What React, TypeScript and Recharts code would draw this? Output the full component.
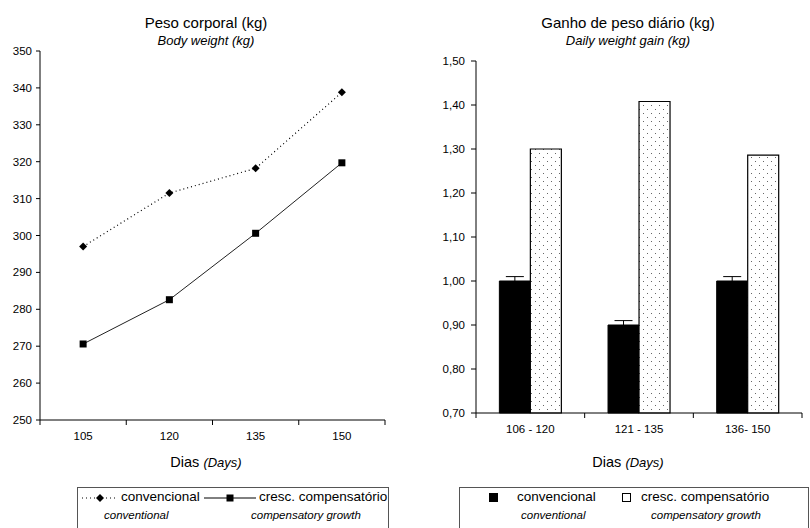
import React from 'react';
import { LineChart, Line, XAxis, YAxis, BarChart, Bar, ErrorBar } from 'recharts';

// ---- Data ----
const days = [105, 120, 135, 150];
const conventionalWeight = [297, 311.5, 318.2, 338.8];
const compensatoryWeight = [270.6, 282.6, 300.6, 319.7];
const weightTicks = [250, 260, 270, 280, 290, 300, 310, 320, 330, 340, 350];
const dayBoundaries = [97.5, 112.5, 127.5, 142.5, 157.5];

const periods = ['106 - 120', '121 - 135', '136- 150'];
const conventionalGain = [1.0, 0.9, 1.0];
const conventionalGainErr = [0.01, 0.01, 0.01];
const compensatoryGain = [1.3, 1.408, 1.286];
const gainTicks = [0.7, 0.8, 0.9, 1.0, 1.1, 1.2, 1.3, 1.4, 1.5];

const lineData = days.map((d, i) => ({
  day: d,
  conv: conventionalWeight[i],
  comp: compensatoryWeight[i],
}));

const barData = periods.map((p, i) => ({
  period: p,
  conv: conventionalGain[i],
  convErr: conventionalGainErr[i],
  comp: compensatoryGain[i],
}));

const FONT = '"Liberation Sans", Arial, Helvetica, sans-serif';
const TICK_SIZE = 5;
const TICK_MARGIN = 7;
const TICK_FONT = 11.5;

const Diamond = (props: any) => {
  const { cx, cy, index } = props;
  if (cx == null || cy == null) return <g key={`d${index}`} />;
  return (
    <path
      key={`d${index}`}
      d={`M${cx},${cy - 4}L${cx + 4},${cy}L${cx},${cy + 4}L${cx - 4},${cy}Z`}
      fill="#000"
    />
  );
};

const Square = (props: any) => {
  const { cx, cy, index } = props;
  if (cx == null || cy == null) return <g key={`s${index}`} />;
  return <rect key={`s${index}`} x={cx - 3.5} y={cy - 3.5} width={7} height={7} fill="#000" />;
};

const DayTick = (props: any) => {
  const { x, y, payload } = props;
  const v = payload.value;
  const axisY = y - TICK_SIZE - TICK_MARGIN;
  if (dayBoundaries.includes(v)) {
    return <line x1={x} x2={x} y1={axisY} y2={axisY + TICK_SIZE} stroke="#000" />;
  }
  return (
    <text x={x} y={y} dy="0.71em" textAnchor="middle" fontSize={TICK_FONT} fill="#000" fontFamily={FONT}>
      {v}
    </text>
  );
};

const PeriodTick = (props: any) => {
  const { x, y, payload, index } = props;
  const half = payload && payload.offset ? payload.offset : 54.3;
  const axisY = y - TICK_SIZE - TICK_MARGIN;
  return (
    <g>
      <line x1={x - half} x2={x - half} y1={axisY} y2={axisY + TICK_SIZE} stroke="#000" />
      {index === periods.length - 1 && (
        <line x1={x + half} x2={x + half} y1={axisY} y2={axisY + TICK_SIZE} stroke="#000" />
      )}
      <text x={x} y={y} dy="0.71em" textAnchor="middle" fontSize={TICK_FONT} fill="#000" fontFamily={FONT}>
        {payload.value}
      </text>
    </g>
  );
};

const abs = (left: number, top: number, extra: any = {}) => ({
  position: 'absolute' as const,
  left,
  top,
  whiteSpace: 'nowrap' as const,
  ...extra,
});

const centered = (cx: number, top: number, size: number, italic = false) => (
  abs(cx - 200, top, {
    width: 400,
    textAlign: 'center',
    fontSize: size,
    fontStyle: italic ? 'italic' : 'normal',
    lineHeight: 1,
  })
);

export default function App() {
  return (
    <div
      style={{
        position: 'absolute',
        left: 0,
        top: 0,
        width: 810,
        height: 528,
        overflow: 'hidden',
        background: '#fff',
        fontFamily: FONT,
        color: '#000',
      }}
    >
      {/* Left chart */}
      <div style={abs(0, 0)}>
        <LineChart width={400} height={450} data={lineData} margin={{ top: 51, right: 15, bottom: 0, left: 0 }}>
          <XAxis
            dataKey="day"
            type="number"
            domain={[97.5, 157.5]}
            ticks={[97.5, 105, 112.5, 120, 127.5, 135, 142.5, 150, 157.5]}
            interval={0}
            height={30}
            tickSize={TICK_SIZE}
            tickMargin={TICK_MARGIN}
            tickLine={{ stroke: 'none' }}
            axisLine={{ stroke: '#000' }}
            tick={<DayTick />}
          />
          <YAxis
            type="number"
            domain={[250, 350]}
            ticks={weightTicks}
            interval={0}
            width={40}
            tickSize={4}
            tickMargin={4}
            axisLine={{ stroke: '#000' }}
            tickLine={{ stroke: '#000' }}
            tick={{ fontSize: TICK_FONT, fill: '#000', fontFamily: FONT }}
          />
          <Line
            dataKey="conv"
            stroke="#000"
            strokeWidth={1.2}
            strokeDasharray="1 3"
            dot={Diamond}
            isAnimationActive={false}
          />
          <Line
            dataKey="comp"
            stroke="#222"
            strokeWidth={1}
            dot={Square}
            isAnimationActive={false}
          />
        </LineChart>
      </div>

      {/* Right chart */}
      <div style={abs(410, 0)}>
        <BarChart
          width={400}
          height={443}
          data={barData}
          margin={{ top: 61, right: 8, bottom: 0, left: 0 }}
          barCategoryGap="21.5%"
          barGap={0}
        >
          <defs>
            <pattern id="dots" width="8" height="8" patternUnits="userSpaceOnUse">
              <rect width="8" height="8" fill="#fff" />
              <rect x="1" y="1" width="1" height="1" fill="#666" />
              <rect x="5" y="5" width="1" height="1" fill="#666" />
            </pattern>
          </defs>
          <XAxis
            dataKey="period"
            height={30}
            interval={0}
            tickSize={TICK_SIZE}
            tickMargin={TICK_MARGIN}
            tickLine={{ stroke: 'none' }}
            axisLine={{ stroke: '#000' }}
            tick={<PeriodTick />}
          />
          <YAxis
            type="number"
            domain={[0.7, 1.5]}
            ticks={gainTicks}
            interval={0}
            width={66}
            tickSize={5}
            tickMargin={6}
            axisLine={{ stroke: '#000' }}
            tickLine={{ stroke: '#000' }}
            tickFormatter={(v: number) => v.toFixed(2).replace('.', ',')}
            tick={{ fontSize: TICK_FONT, fill: '#000', fontFamily: FONT }}
          />
          <Bar dataKey="conv" fill="#000" stroke="#000" isAnimationActive={false}>
            <ErrorBar dataKey="convErr" width={9} stroke="#000" strokeWidth={1} direction="y" />
          </Bar>
          <Bar dataKey="comp" fill="url(#dots)" stroke="#000" strokeWidth={1.2} isAnimationActive={false} />
        </BarChart>
      </div>

      {/* Titles */}
      <div style={centered(206, 15, 15)}>Peso corporal (kg)</div>
      <div style={centered(206, 34, 13, true)}>Body weight (kg)</div>
      <div style={centered(628, 15, 15)}>Ganho de peso diário (kg)</div>
      <div style={centered(628, 34, 13, true)}>Daily weight gain (kg)</div>

      {/* Axis titles */}
      <div style={centered(206, 455, 14.5)}>
        Dias <span style={{ fontStyle: 'italic', fontSize: 13 }}>(Days)</span>
      </div>
      <div style={centered(628, 455, 14.5)}>
        Dias <span style={{ fontStyle: 'italic', fontSize: 13 }}>(Days)</span>
      </div>

      {/* Left legend */}
      <div style={abs(77, 487, { width: 312, height: 50, border: '1px solid #555', boxSizing: 'border-box' })}>
        <svg style={abs(3, 4)} width={38} height={12}>
          <line x1={1} x2={37} y1={6} y2={6} stroke="#000" strokeDasharray="1 3" />
          <path d="M19,2L23,6L19,10L15,6Z" fill="#000" />
        </svg>
        <div style={abs(43, 2, { fontSize: 13.5, lineHeight: 1 })}>convencional</div>
        <svg style={abs(126, 4)} width={52} height={12}>
          <line x1={0} x2={52} y1={6} y2={6} stroke="#000" />
          <rect x={22.5} y={2.5} width={7} height={7} fill="#000" />
        </svg>
        <div style={abs(181, 2, { fontSize: 13.5, lineHeight: 1 })}>cresc. compensatório</div>
        <div style={abs(26, 22, { fontSize: 11.5, fontStyle: 'italic', lineHeight: 1 })}>conventional</div>
        <div style={abs(173, 22, { fontSize: 11.5, fontStyle: 'italic', lineHeight: 1 })}>compensatory growth</div>
      </div>

      {/* Right legend */}
      <div style={abs(459, 487, { width: 350, height: 50, border: '1px solid #555', boxSizing: 'border-box' })}>
        <svg style={abs(28, 4)} width={12} height={12}>
          <rect x={1.5} y={1.5} width={8} height={8} fill="#000" stroke="#000" />
        </svg>
        <div style={abs(57, 2, { fontSize: 13.5, lineHeight: 1 })}>convencional</div>
        <svg style={abs(161, 4)} width={12} height={12}>
          <rect x={1.5} y={1.5} width={8} height={8} fill="#fff" stroke="#000" />
        </svg>
        <div style={abs(181, 2, { fontSize: 13.5, lineHeight: 1 })}>cresc. compensatório</div>
        <div style={abs(61, 22, { fontSize: 11.5, fontStyle: 'italic', lineHeight: 1 })}>conventional</div>
        <div style={abs(191, 22, { fontSize: 11.5, fontStyle: 'italic', lineHeight: 1 })}>compensatory growth</div>
      </div>
    </div>
  );
}
